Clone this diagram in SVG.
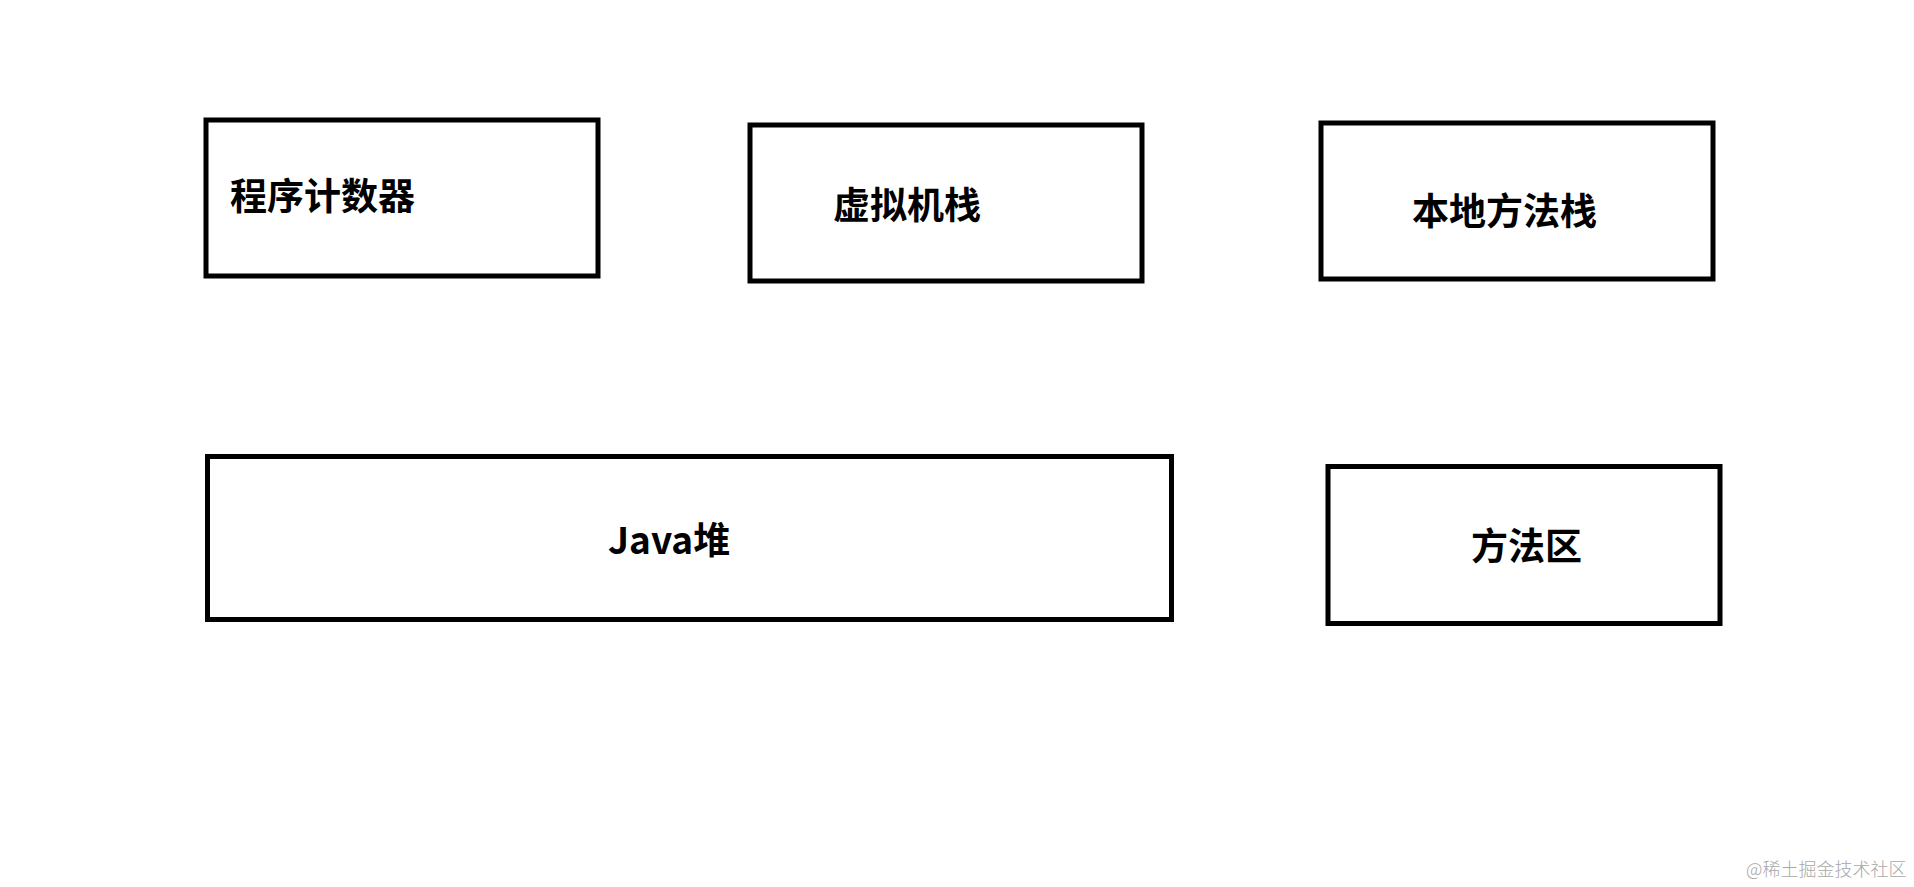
<svg xmlns="http://www.w3.org/2000/svg" width="1914" height="887" viewBox="0 0 1914 887">
<style>
.box{fill:#fff;stroke:#000;stroke-width:5}
.lbl{font-family:"Noto Sans CJK SC","Liberation Sans",sans-serif;font-weight:bold;font-size:37px;fill:#000}
.wm{font-family:"Noto Sans CJK SC",sans-serif;font-weight:300;font-size:18px;fill:#a8a8a8}
</style>
<rect width="1914" height="887" fill="#fff"/>
<g id="connectors"></g>
<g id="node-pc">
<rect class="box" x="206" y="120" width="392" height="156"/>
<text class="lbl" x="230" y="210">程序计数器</text>
</g>
<g id="node-vmstack">
<rect class="box" x="750" y="125" width="392" height="156"/>
<text class="lbl" x="833" y="219">虚拟机栈</text>
</g>
<g id="node-nativestack">
<rect class="box" x="1321" y="123" width="392" height="156"/>
<text class="lbl" x="1412" y="225">本地方法栈</text>
</g>
<g id="node-heap">
<rect class="box" x="207.5" y="456.5" width="964" height="163"/>
<text class="lbl" x="608" y="554">Java堆</text>
</g>
<g id="node-method">
<rect class="box" x="1328" y="466.5" width="392" height="157"/>
<text class="lbl" x="1471" y="560">方法区</text>
</g>
<text class="wm" x="1746" y="876">@稀土掘金技术社区</text>
</svg>
